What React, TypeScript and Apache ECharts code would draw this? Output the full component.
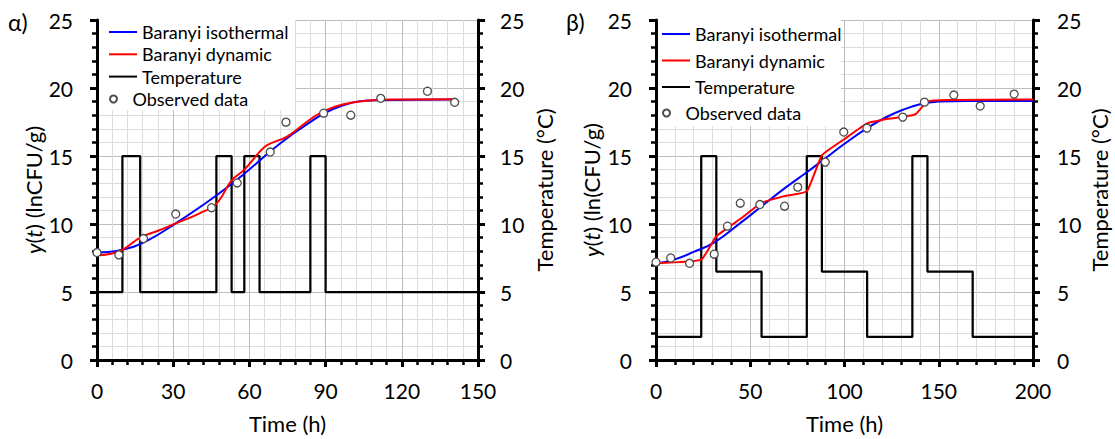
import React, { useEffect, useRef } from "react";
import * as echarts from "echarts";

const FONT = "Lato, 'Open Sans', sans-serif";

// ---------- Panel α ----------
const xMaxA = 150;
const xStepA = 30;
const tempTimeA = [0, 10, 17, 47, 53, 58, 64, 84, 90, 150];
const tempA = [5, 15, 5, 15, 5, 15, 5, 15, 5, 5];
const isoTimeA = [0, 10, 20, 31, 47, 58, 70, 82, 95, 110, 141];
const isoA = [7.9, 8.1, 8.8, 10.05, 12.1, 13.7, 15.6, 17.25, 18.6, 19.1, 19.15];
const dynTimeA = [0, 5, 10, 17, 24, 31, 40, 47, 53, 58, 64, 67, 75, 84, 90, 97, 105, 115, 141];
const dynA = [7.7, 7.8, 8.1, 9.0, 9.5, 10.05, 10.75, 11.5, 13.2, 14.0, 15.3, 15.8, 16.45, 17.7, 18.35, 18.8, 19.05, 19.15, 19.17];
const obsTimeA = [0, 8.6, 18.3, 31, 45.1, 55.2, 68.2, 74.4, 89.2, 99.9, 111.7, 130.1, 140.8];
const obsA = [7.9, 7.73, 8.93, 10.73, 11.2, 13.02, 15.29, 17.49, 18.15, 18.0, 19.24, 19.76, 18.95];

// ---------- Panel β ----------
const xMaxB = 200;
const xStepB = 50;
const tempTimeB = [0, 24, 32, 56, 80, 88, 112, 136, 144, 168, 200];
const tempB = [1.7, 15, 6.5, 1.7, 15, 6.5, 1.7, 15, 6.5, 1.7, 1.7];
const isoTimeB = [0, 10, 20, 31, 45, 56, 68, 80, 90, 100, 112, 122, 131, 140, 150, 165, 200];
const isoB = [7.1, 7.4, 7.95, 8.65, 10.1, 11.3, 12.6, 13.8, 14.85, 15.9, 17.05, 17.85, 18.4, 18.8, 19.0, 19.05, 19.05];
const dynTimeB = [0, 24, 32, 45, 56, 68, 80, 88, 100, 112, 124, 136, 138, 144, 155, 200];
const dynB = [7.12, 7.38, 9.1, 10.4, 11.55, 12.05, 12.4, 15.05, 16.25, 17.4, 17.75, 18.0, 18.1, 19.0, 19.12, 19.15];
const obsTimeB = [0, 7.8, 17.8, 30.9, 37.9, 44.7, 55.1, 68.2, 75.2, 89.8, 99.6, 111.9, 130.9, 142.4, 158, 172, 190];
const obsB = [7.19, 7.5, 7.11, 7.78, 9.84, 11.53, 11.43, 11.31, 12.71, 14.55, 16.76, 17.05, 17.86, 18.96, 19.48, 18.67, 19.55];

// ---------- Shared ----------
const yMax = 25;
const yStep = 5;
const NAMES = ["Baranyi isothermal", "Baranyi dynamic", "Temperature", "Observed data"];
const COLORS = { iso: "#0000ff", dyn: "#ff0000", temp: "#000000" };
const LINE_ICON = "path://M0 0H28V2H0Z";

const pairs = (xs: number[], ys: number[]) => xs.map((x, i) => [x, ys[i]]);

const labelStyle = { fontSize: 21, fontFamily: FONT, color: "#000" };

function xAxisCfg(gridIndex: number, max: number, step: number) {
  return {
    type: "value",
    gridIndex,
    min: 0,
    max,
    interval: step,
    name: "Time (h)",
    nameLocation: "middle",
    nameGap: 52,
    nameTextStyle: { fontSize: 22, fontFamily: FONT, color: "#000" },
    axisLine: { show: true, onZero: false, lineStyle: { color: "#000", width: 3 } },
    axisTick: { show: true, length: 7, lineStyle: { color: "#000", width: 3 } },
    minorTick: { show: true, splitNumber: 5, length: 5, lineStyle: { color: "#000", width: 2.5 } },
    axisLabel: { ...labelStyle, margin: 20 },
    splitLine: { show: true, lineStyle: { color: "#bdbdbd", width: 1 } },
    minorSplitLine: { show: true, lineStyle: { color: "#dcdcdc", width: 1 } },
  };
}

function yAxisCfg(gridIndex: number, position: string, name: string, nameGap: number, margin: number, grid: boolean) {
  return {
    type: "value",
    gridIndex,
    position,
    min: 0,
    max: yMax,
    interval: yStep,
    name,
    nameLocation: "middle",
    nameGap,
    nameTextStyle: {
      fontSize: 22,
      fontFamily: FONT,
      color: "#000",
      rich: { i: { fontStyle: "italic", fontSize: 22, fontFamily: FONT, color: "#000" } },
    },
    axisLine: { show: true, onZero: false, lineStyle: { color: "#000", width: 3 } },
    axisTick: { show: true, length: 7, lineStyle: { color: "#000", width: 3 } },
    minorTick: { show: true, splitNumber: 5, length: 5, lineStyle: { color: "#000", width: 2.5 } },
    axisLabel: { ...labelStyle, margin },
    splitLine: { show: grid, lineStyle: { color: "#bdbdbd", width: 1 } },
    minorSplitLine: { show: grid, lineStyle: { color: "#dcdcdc", width: 1 } },
  };
}

function panelSeries(
  xi: number,
  yl: number,
  yr: number,
  tT: number[], T: number[],
  tI: number[], I: number[],
  tD: number[], D: number[],
  tO: number[], O: number[],
  dynSmooth: number
) {
  return [
    {
      type: "line",
      name: NAMES[2],
      xAxisIndex: xi,
      yAxisIndex: yr,
      data: pairs(tT, T),
      step: "end",
      symbol: "none",
      lineStyle: { color: COLORS.temp, width: 2.25 },
      itemStyle: { color: COLORS.temp },
      z: 2,
    },
    {
      type: "line",
      name: NAMES[0],
      xAxisIndex: xi,
      yAxisIndex: yl,
      data: pairs(tI, I),
      smooth: 0.45,
      symbol: "none",
      lineStyle: { color: COLORS.iso, width: 2 },
      itemStyle: { color: COLORS.iso },
      z: 3,
    },
    {
      type: "line",
      name: NAMES[1],
      xAxisIndex: xi,
      yAxisIndex: yl,
      data: pairs(tD, D),
      smooth: dynSmooth,
      symbol: "none",
      lineStyle: { color: COLORS.dyn, width: 2 },
      itemStyle: { color: COLORS.dyn },
      z: 4,
    },
    {
      type: "scatter",
      name: NAMES[3],
      xAxisIndex: xi,
      yAxisIndex: yl,
      data: pairs(tO, O),
      symbol: "circle",
      symbolSize: 8,
      itemStyle: { color: "#ffffff", borderColor: "#4d4d4d", borderWidth: 1.3, opacity: 1 },
      z: 5,
    },
  ];
}

function legends(left: number, top: number, gap: number, obsTop: number) {
  const textStyle = { fontSize: 18, lineHeight: 18, fontFamily: FONT, color: "#000" };
  return [
    {
      orient: "vertical",
      left,
      top,
      padding: 0,
      itemWidth: 28,
      itemHeight: 14,
      itemGap: gap,
      data: NAMES.slice(0, 3).map((name) => ({ name, icon: LINE_ICON })),
      textStyle,
      selectedMode: false,
    },
    {
      orient: "vertical",
      left,
      top: obsTop,
      padding: 0,
      itemWidth: 28,
      itemHeight: 7,
      data: [{ name: NAMES[3], icon: "circle" }],
      textStyle,
      selectedMode: false,
    },
  ];
}

export default function App() {
  const ref = useRef<HTMLDivElement>(null);
  useEffect(() => {
    if (!ref.current) return;
    const chart = echarts.init(ref.current, undefined, { renderer: "svg" });
    const option = {
      animation: false,
      backgroundColor: "#ffffff",
      grid: [
        { left: 97, top: 20, width: 381, height: 342 },
        { left: 656, top: 20, width: 377, height: 342 },
      ],
      xAxis: [xAxisCfg(0, xMaxA, xStepA), xAxisCfg(1, xMaxB, xStepB)],
      yAxis: [
        yAxisCfg(0, "left", "{i|y}({i|t}) (lnCFU/g)", 50, 24, true),
        yAxisCfg(0, "right", "Temperature (°C)", 55, 22, false),
        yAxisCfg(1, "left", "{i|y}({i|t}) (ln(CFU/g)", 54, 24, true),
        yAxisCfg(1, "right", "Temperature (°C)", 55, 24, false),
      ],
      legend: [...legends(109, 23, 4.3, 90), ...legends(662, 25, 8.5, 104)],
      graphic: [
        { type: "rect", z: 1, silent: true, shape: { x: 99, y: 19, width: 196, height: 91 }, style: { fill: "#fff" } },
        { type: "rect", z: 1, silent: true, shape: { x: 658, y: 19, width: 183, height: 107 }, style: { fill: "#fff" } },
        { type: "text", left: 8, top: 10, style: { text: "α)", fontSize: 23, fontFamily: FONT, fill: "#000" } },
        { type: "text", left: 566, top: 10, style: { text: "β)", fontSize: 23, fontFamily: FONT, fill: "#000" } },
      ],
      series: [
        ...panelSeries(0, 0, 1, tempTimeA, tempA, isoTimeA, isoA, dynTimeA, dynA, obsTimeA, obsA, 0.4),
        ...panelSeries(1, 2, 3, tempTimeB, tempB, isoTimeB, isoB, dynTimeB, dynB, obsTimeB, obsB, 0.12),
      ],
    };
    chart.setOption(option as any);
    return () => chart.dispose();
  }, []);
  return (
    <div
      ref={ref}
      style={{ position: "absolute", left: 0, top: 0, width: 1115, height: 439 }}
    />
  );
}
